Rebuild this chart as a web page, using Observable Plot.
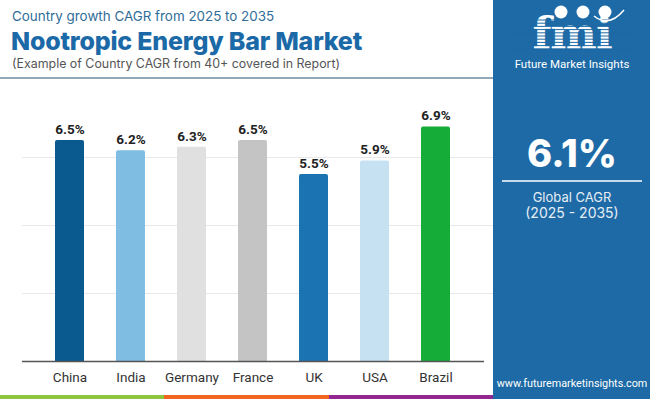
<!DOCTYPE html>
<html>
<head>
<meta charset="utf-8">
<script src="https://cdn.jsdelivr.net/npm/d3@7"></script>
<script src="https://cdn.jsdelivr.net/npm/@observablehq/plot@0.6"></script>
<style>
  html, body { margin: 0; padding: 0; background: #fff; }
  body { width: 650px; height: 399px; position: relative; overflow: hidden; font-family: Roboto, sans-serif; }
  .abs { position: absolute; white-space: nowrap; }
  #kicker { left: 12px; top: 8px; font-family: Inter, sans-serif; font-size: 13.4px; color: #2f6d99; }
  #title { left: 11px; top: 26px; font-family: Inter, sans-serif; font-weight: 800; font-size: 25px; color: #1b69a7; letter-spacing: -0.2px; }
  #sub { left: 12px; top: 56px; font-family: Inter, sans-serif; font-size: 12.4px; color: #555; }
  #rule { left: 0; top: 77px; width: 493px; height: 2px; background: #8fa9b8; }
  #chart { position: absolute; left: 0; top: 80px; }
  #panel { left: 493px; top: 0; width: 157px; height: 399px; background: #1d6aa6; }
  #stripes { left: 0; top: 395px; width: 493px; height: 4px; display: flex; }
  #stripes div { height: 4px; }
</style>
</head>
<body>
<div id="kicker" class="abs">Country growth CAGR from 2025 to 2035</div>
<div id="title" class="abs">Nootropic Energy Bar Market</div>
<div id="sub" class="abs">(Example of Country CAGR from 40+ covered in Report)</div>
<div id="rule" class="abs"></div>
<div id="chart"></div>
<div id="panel" class="abs"></div>
<div id="stripes" class="abs"></div>
<script>
const countries = ["China", "India", "Germany", "France", "UK", "USA", "Brazil"];
const cagr = [6.5, 6.2, 6.3, 6.5, 5.5, 5.9, 6.9];
const barColors = ["#0b5a8f", "#7fbde2", "#e0e0e0", "#c4c4c4", "#1b73b1", "#c5e1f2", "#15ad37"];
const gridTicks = [2, 4, 6];
const globalCagr = "6.1%";
const globalLabel = "Global CAGR";
const globalPeriod = "(2025 - 2035)";
const site = "www.futuremarketinsights.com";
const brand = "Future Market Insights";
const stripeColors = ["#8cc63f", "#f26522", "#92278f"];

const data = countries.map((c, i) => ({country: c, value: cagr[i], color: barColors[i]}));

const chart = Plot.plot({
  width: 493,
  height: 316,
  marginLeft: 22,
  marginRight: 9,
  marginTop: 9,
  marginBottom: 35,
  style: {fontFamily: "Roboto, sans-serif", background: "transparent", overflow: "visible"},
  x: {domain: countries, padding: 0.52, label: null, axis: null},
  y: {domain: [0, 8], label: null, axis: null},
  marks: [
    Plot.ruleY(gridTicks, {stroke: "#e8e8e8", strokeWidth: 1, insetRight: -9}),
    Plot.barY(data, {x: "country", y: "value", fill: "color", r: 2}),
    Plot.rectY(data, {x: "country", y1: 0, y2: d => d.value - 0.1, fill: "color"}),
    Plot.text(data, {x: "country", y: "value", text: d => d.value.toFixed(1) + "%", dy: -11, fontSize: 13.5, fontWeight: "bold", fill: "#222"}),
    Plot.ruleY([0], {stroke: "#555", strokeWidth: 1.5}),
    Plot.axisX({tickSize: 0, tickPadding: 11, fontSize: 13.5, color: "#333", label: null})
  ]
});
document.getElementById("chart").appendChild(chart);

// stripes
const st = document.getElementById("stripes");
stripeColors.forEach(c => { const d = document.createElement("div"); d.style.flex = "1"; d.style.background = c; st.appendChild(d); });

// right panel drawn with d3
const panel = d3.select("#panel").append("svg").attr("width", 157).attr("height", 399);
const cx = 79;
// logo
const logo = panel.append("g");
logo.append("text").attr("x", cx).attr("y", 49).attr("text-anchor", "middle")
  .attr("font-family", "DejaVu Serif, serif").attr("font-weight", "bold").attr("font-size", 44)
  .attr("fill", "#fff").attr("letter-spacing", -1).text("fmi");
for (let y = 20; y < 51; y += 3.2) {
  logo.append("line").attr("x1", 18).attr("x2", 140).attr("y1", y).attr("y2", y).attr("stroke", "#1d6aa6").attr("stroke-width", 1);
}
[[68, 12], [90, 12], [112, 12]].forEach(([x, y]) => {
  logo.append("circle").attr("cx", x).attr("cy", y).attr("r", 6.5).attr("fill", "#fff");
});
logo.append("path").attr("d", "M101,16 Q116,28 131,10").attr("fill", "none").attr("stroke", "#fff").attr("stroke-width", 1.5);
panel.append("text").attr("x", cx).attr("y", 68).attr("text-anchor", "middle")
  .attr("font-family", "Roboto, sans-serif").attr("font-size", 11.5).attr("fill", "#fff").text(brand);
panel.append("text").attr("x", cx).attr("y", 167).attr("text-anchor", "middle")
  .attr("font-family", "Inter, sans-serif").attr("font-weight", 800).attr("font-size", 38).attr("fill", "#fff").text(globalCagr);
panel.append("line").attr("x1", 9).attr("x2", 149).attr("y1", 181).attr("y2", 181).attr("stroke", "#fff").attr("stroke-width", 1.5);
panel.append("text").attr("x", cx).attr("y", 202).attr("text-anchor", "middle")
  .attr("font-family", "Inter, sans-serif").attr("font-size", 13).attr("fill", "#e6eef5").text(globalLabel);
panel.append("text").attr("x", cx).attr("y", 218).attr("text-anchor", "middle")
  .attr("font-family", "Inter, sans-serif").attr("font-size", 14).attr("fill", "#e6eef5").text(globalPeriod);
panel.append("text").attr("x", cx).attr("y", 387).attr("text-anchor", "middle")
  .attr("font-family", "Roboto, sans-serif").attr("font-size", 10.8).attr("fill", "#fff").text(site);
</script>
</body>
</html>
